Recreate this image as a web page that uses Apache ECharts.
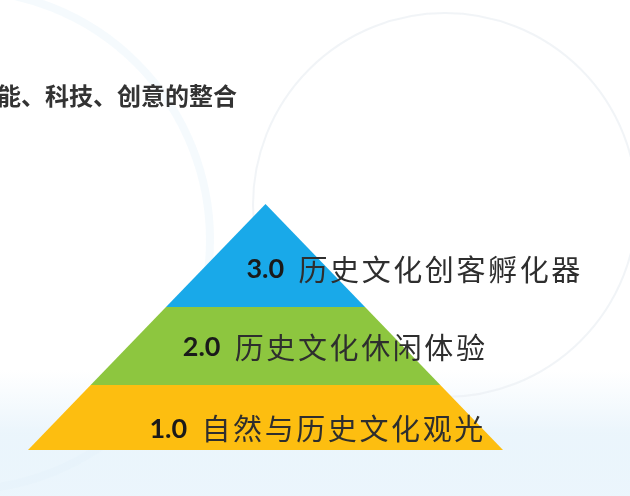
<!DOCTYPE html>
<html>
<head>
<meta charset="utf-8">
<script src="https://cdn.jsdelivr.net/npm/echarts@6/dist/echarts.min.js"></script>
<style>
html,body{margin:0;padding:0;background:#fff;}
#chart{width:630px;height:496px;}
</style>
</head>
<body>
<div id="chart"></div>
<script>
// Data
var levels = ['1.0', '2.0', '3.0'];
var descriptions = ['自然与历史文化观光', '历史文化休闲体验', '历史文化创客孵化器'];
var values = [100, 73.6, 41.9];
var headline = '能、科技、创意的整合';

// Styles (not data)
var colors = ['#FDBE10', '#8DC63F', '#19A9E9'];
var heights = [65, 78, 103];
// label box padding [top, right, bottom, left] used to place labels
var labelPads = [[23, 0, 0, 103], [3, 0, 0, 138], [28, 0, 0, 297]];

var chart = echarts.init(document.getElementById('chart'));

var seriesData = levels.map(function (lv, i) {
  return {
    name: lv,
    value: values[i],
    desc: descriptions[i],
    itemStyle: { color: colors[i], height: heights[i] },
    label: { padding: labelPads[i] }
  };
});

var option = {
  backgroundColor: '#ffffff',
  animation: false,
  graphic: [
    {
      type: 'rect', z: -10, silent: true,
      shape: { x: 0, y: 370, width: 630, height: 126 },
      style: {
        fill: new echarts.graphic.LinearGradient(0, 0, 0, 1, [
          { offset: 0, color: 'rgba(225,240,250,0)' },
          { offset: 0.5, color: 'rgba(222,239,250,0.6)' },
          { offset: 1, color: 'rgba(232,244,252,0.85)' }
        ])
      }
    },
    {
      type: 'circle', z: -9, silent: true,
      shape: { cx: 445, cy: 205, r: 192 },
      style: { fill: 'none', stroke: 'rgba(235,240,244,0.7)', lineWidth: 2 }
    },
    {
      type: 'circle', z: -9, silent: true,
      shape: { cx: -40, cy: 240, r: 250 },
      style: { fill: 'none', stroke: 'rgba(225,240,250,0.35)', lineWidth: 8 }
    },
    {
      type: 'text', z: 10,
      left: -3, top: 84,
      style: {
        text: headline,
        font: 'bold 24px "Noto Sans CJK SC"',
        fill: '#333333'
      }
    }
  ],
  series: [{
    type: 'funnel',
    sort: 'ascending',
    left: 28,
    top: 204,
    width: 475,
    height: 246,
    min: 0,
    max: 100,
    minSize: '0%',
    maxSize: '100%',
    gap: 0,
    itemStyle: { borderWidth: 0 },
    emphasis: { disabled: true },
    labelLine: { show: false },
    label: {
      show: true,
      position: 'inside',
      formatter: function (p) {
        var chars = p.data.desc.split('').map(function (c) { return '{c|' + c + '}'; }).join('');
        return '{a|' + p.name + '}{s|}' + chars;
      },
      rich: {
        a: { fontFamily: 'Lato', fontWeight: 'bold', fontSize: 27, color: '#1a1a1a' },
        s: { width: 13 },
        c: { fontFamily: '"Noto Sans CJK SC"', fontSize: 29, width: 31.6, align: 'center', color: '#2e2e2e', fontWeight: 'normal' }
      }
    },
    data: seriesData
  }]
};

chart.setOption(option);
</script>
</body>
</html>
